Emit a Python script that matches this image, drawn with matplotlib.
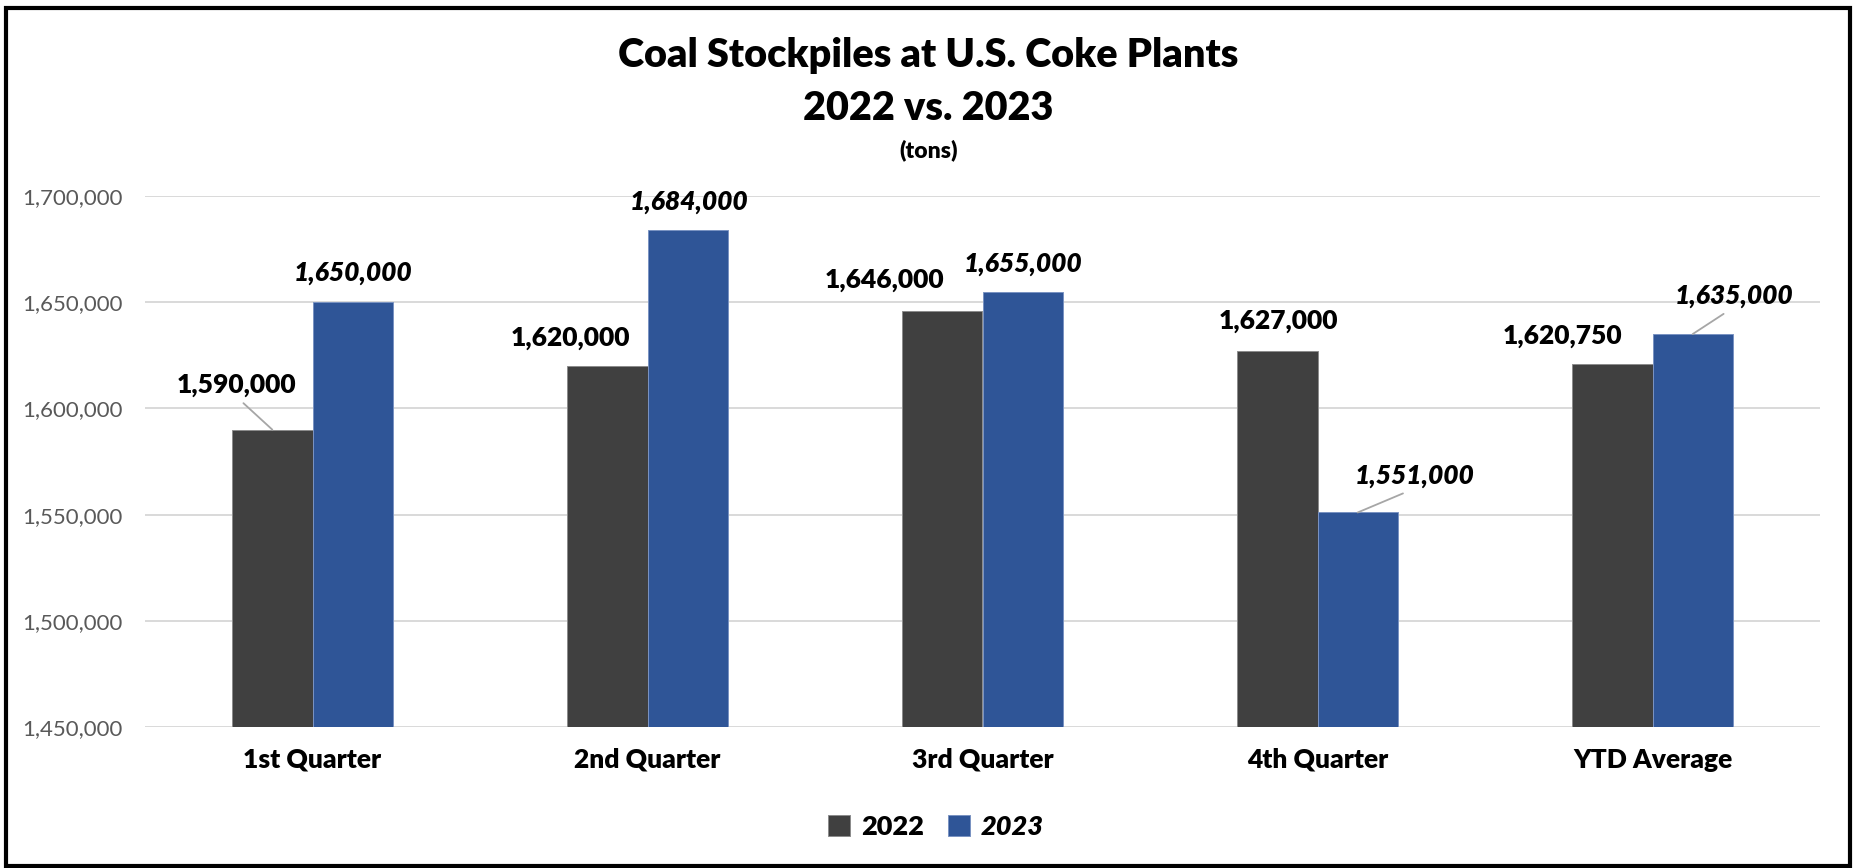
import numpy as np
import matplotlib
matplotlib.use("Agg")
import matplotlib.pyplot as plt
from matplotlib.patches import Rectangle
from matplotlib.ticker import FuncFormatter

plt.rcParams['font.family'] = ['Lato', 'DejaVu Sans']

# data
categories = ['1st Quarter', '2nd Quarter', '3rd Quarter', '4th Quarter', 'YTD Average']
vals_2022 = [1590000, 1620000, 1646000, 1627000, 1620750]
vals_2023 = [1650000, 1684000, 1655000, 1551000, 1635000]
yticks = [1450000, 1500000, 1550000, 1600000, 1650000, 1700000]

# label offsets in pixels (dx, dy) from bar top, and leader relpos (None = no leader)
off_2022 = [(-36, 45), (-37, 28), (-58, 31), (1, 30), (-50, 28)]
off_2023 = [(0, 29), (1, 28), (0, 28), (57, 36), (41, 38)]
lead_2022 = [0.5, None, None, None, None]
lead_2023 = [None, None, None, 0.5, 0.49]

dark = '#404040'
blue = '#2F5597'

W, H = 1857, 868
fig = plt.figure(figsize=(W / 100, H / 100), dpi=100)
ax = fig.add_axes([145 / W, 141 / H, (1820 - 145) / W, (727 - 196) / H])

x = np.arange(len(categories))
bw = 0.24
b1 = ax.bar(x - bw / 2, vals_2022, bw, color=dark, edgecolor='#8C8C8C', linewidth=0.7, label='2022', zorder=3)
b2 = ax.bar(x + bw / 2, vals_2023, bw, color=blue, edgecolor='#7A93C2', linewidth=0.7, label='2023', zorder=3)

ax.set_xlim(-0.5, len(categories) - 0.5)
ax.set_ylim(1450000, 1700000)
ax.set_yticks(yticks)
ax.yaxis.set_major_formatter(FuncFormatter(lambda v, p: f'{int(v):,}'))
ax.grid(axis='y', color='#D9D9D9', linewidth=1.4, zorder=0)
for s in ax.spines.values():
    s.set_visible(False)
ax.tick_params(axis='both', length=0)
ax.tick_params(axis='y', labelsize=16, labelcolor='#595959', pad=16)
ax.set_xticks(x)
ax.set_xticklabels(categories, fontsize=19, fontweight='heavy')
ax.tick_params(axis='x', pad=15)

px = 72 / 100


def put_labels(bars, vals, offs, leads, style):
    for b, v, (dx, dy), rp in zip(bars, vals, offs, leads):
        xc = b.get_x() + b.get_width() / 2
        kw = {}
        if rp is not None:
            kw['arrowprops'] = dict(arrowstyle='-', color='#A6A6A6', lw=1.3,
                                    relpos=(rp, 0), shrinkA=4, shrinkB=0)
        ax.annotate(f'{v:,}', xy=(xc, v), xytext=(dx * px, dy * px),
                    textcoords='offset points', ha='center', va='center',
                    fontsize=19, fontweight='heavy', fontstyle=style, zorder=5, **kw)


put_labels(b1, vals_2022, off_2022, lead_2022, 'normal')
put_labels(b2, vals_2023, off_2023, lead_2023, 'italic')

# titles
fig.text(0.5, 1 - 56 / H, 'Coal Stockpiles at U.S. Coke Plants', ha='center', va='center',
         fontsize=28.5, fontweight='heavy')
fig.text(0.5, 1 - 108 / H, '2022 vs. 2023', ha='center', va='center',
         fontsize=28.5, fontweight='heavy')
fig.text(0.5, 1 - 150 / H, '(tons)', ha='center', va='center', fontsize=16.5, fontweight='heavy')

leg = fig.legend(handles=[b1, b2], labels=['2022', '2023'], loc='center',
                 bbox_to_anchor=(936 / W, 1 - 827 / H), ncol=2, frameon=False,
                 handlelength=0.8, handleheight=0.8, handletextpad=0.4, columnspacing=0.9,
                 prop={'size': 19.5, 'weight': 'heavy'})
leg.get_texts()[1].set_fontstyle('italic')

# outer border
fig.patches.append(Rectangle((6 / W, 1 - 866 / H), (1850 - 6) / W, (866 - 8) / H,
                             transform=fig.transFigure, fill=False, edgecolor='black',
                             linewidth=3, zorder=10))

fig.savefig('out.png', dpi=100, facecolor='white')
